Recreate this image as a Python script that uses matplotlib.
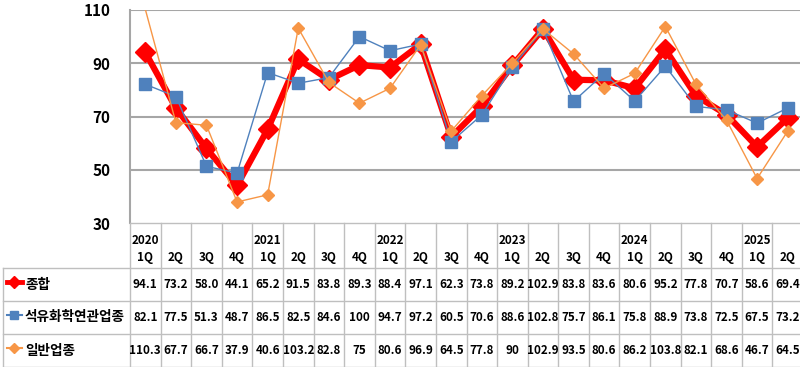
import matplotlib
matplotlib.use("Agg")
import matplotlib.pyplot as plt
from matplotlib.lines import Line2D
from matplotlib.transforms import blended_transform_factory

# ─── Data ─────────────────────────────────────────────────────────────────────
years = ["2020", "", "", "", "2021", "", "", "", "2022", "", "", "",
         "2023", "", "", "", "2024", "", "", "", "2025", ""]
quarters = ["1Q", "2Q", "3Q", "4Q"] * 5 + ["1Q", "2Q"]

series_names = ["종합", "석유화학연관업종", "일반업종"]
total = [94.1, 73.2, 58.0, 44.1, 65.2, 91.5, 83.8, 89.3, 88.4, 97.1, 62.3,
         73.8, 89.2, 102.9, 83.8, 83.6, 80.6, 95.2, 77.8, 70.7, 58.6, 69.4]
petro = [82.1, 77.5, 51.3, 48.7, 86.5, 82.5, 84.6, 100, 94.7, 97.2, 60.5,
         70.6, 88.6, 102.8, 75.7, 86.1, 75.8, 88.9, 73.8, 72.5, 67.5, 73.2]
general = [110.3, 67.7, 66.7, 37.9, 40.6, 103.2, 82.8, 75, 80.6, 96.9, 64.5,
           77.8, 90, 102.9, 93.5, 80.6, 86.2, 103.8, 82.1, 68.6, 46.7, 64.5]
yticks = [30, 50, 70, 90, 110]

# ─── Styles ───────────────────────────────────────────────────────────────────
RED = "#FF0000"
BLUE = "#4F81BD"
ORANGE = "#F79646"
GRID = "#A6A6A6"
TBL = "#BFBFBF"
KFONT = ["Noto Sans CJK KR", "DejaVu Sans"]

W, H = 800, 367
fig = plt.figure(figsize=(W / 100, H / 100), dpi=100)

# plot area in pixel coords
x0, x1 = 130, 803
y_top, y_bot = 10, 223
ax = fig.add_axes([x0 / W, 1 - y_bot / H, (x1 - x0) / W, (y_bot - y_top) / H])

n = len(total)
xs = list(range(n))
ymin, ymax = yticks[0], yticks[-1]

def in_range(vals):
    # markers beyond the axis maximum are not drawn (as in the source chart)
    return [i for i, v in enumerate(vals) if ymin <= v <= ymax]

ax.plot(xs, total, color=RED, lw=4.5, marker="D", ms=10.5, mec=RED, mfc=RED,
        markevery=in_range(total), zorder=3)
ax.plot(xs, petro, color=BLUE, lw=1, marker="s", ms=8, mec=BLUE, mfc=BLUE,
        markevery=in_range(petro), zorder=4)
ax.plot(xs, general, color=ORANGE, lw=1, marker="D", ms=6.5, mec=ORANGE,
        mfc=ORANGE, markevery=in_range(general), zorder=5)

ax.set_xlim(-0.5, n - 0.5)
ax.set_ylim(ymin, ymax)
ax.set_yticks(yticks)
ax.set_yticklabels([str(t) for t in yticks], fontsize=11, fontweight="bold",
                   family=KFONT)
ax.set_xticks([])
ax.tick_params(axis="y", length=0, pad=14)
for t in yticks[1:]:
    ax.axhline(t, color=GRID, lw=1.5, zorder=1)
for side in ["top", "right", "bottom"]:
    ax.spines[side].set_visible(False)
ax.spines["left"].set_color(GRID)
ax.spines["left"].set_linewidth(1.5)

# ─── Data table ───────────────────────────────────────────────────────────────
def fy(py):
    return 1 - py / H

trans = blended_transform_factory(ax.transData, fig.transFigure)
ftrans = fig.transFigure

row_edges = [223, 268, 301, 334, 367]
for i in range(n + 1):
    fig.add_artist(Line2D([i - 0.5, i - 0.5], [fy(223), fy(367)],
                          transform=trans, color=TBL, lw=1))
fig.add_artist(Line2D([-0.5, n - 0.5], [fy(223), fy(223)], transform=trans,
                      color=TBL, lw=1))
for py in row_edges[1:]:
    fig.add_artist(Line2D([3 / W, 1.01], [fy(py), fy(py)], transform=ftrans,
                          color=TBL, lw=1))
fig.add_artist(Line2D([3 / W, 3 / W], [fy(268), fy(367)], transform=ftrans,
                      color=TBL, lw=1))

num_kw = dict(fontsize=8.4, fontweight="bold", family=KFONT, ha="center",
              va="center", transform=trans)
for i in range(n):
    if years[i]:
        fig.text(i, fy(241), years[i], **num_kw)
    fig.text(i, fy(258), quarters[i], **num_kw)

rows = [
    ([f"{v:.1f}" for v in total], RED, "D", 3.5, 6),
    ([f"{v:g}" for v in petro], BLUE, "s", 1.5, 6),
    ([f"{v:g}" for v in general], ORANGE, "D", 1.5, 5),
]
for r, (labels, color, mk, lw, ms) in enumerate(rows):
    yc = fy((row_edges[r + 1] + row_edges[r + 2]) / 2)
    for i, s in enumerate(labels):
        fig.text(i, yc, s, **num_kw)
    fig.add_artist(Line2D([7 / W, 22 / W], [yc + 0.006, yc + 0.006],
                          transform=ftrans, color=color, lw=lw))
    fig.add_artist(Line2D([14.5 / W], [yc + 0.006], transform=ftrans, color=color,
                          marker=mk, ms=ms, mec=color, mfc=color))
    fig.text(25 / W, yc, series_names[r], fontsize=9.8, fontweight="bold",
             family=KFONT, ha="left", va="center")

fig.savefig("out.png", dpi=100)
